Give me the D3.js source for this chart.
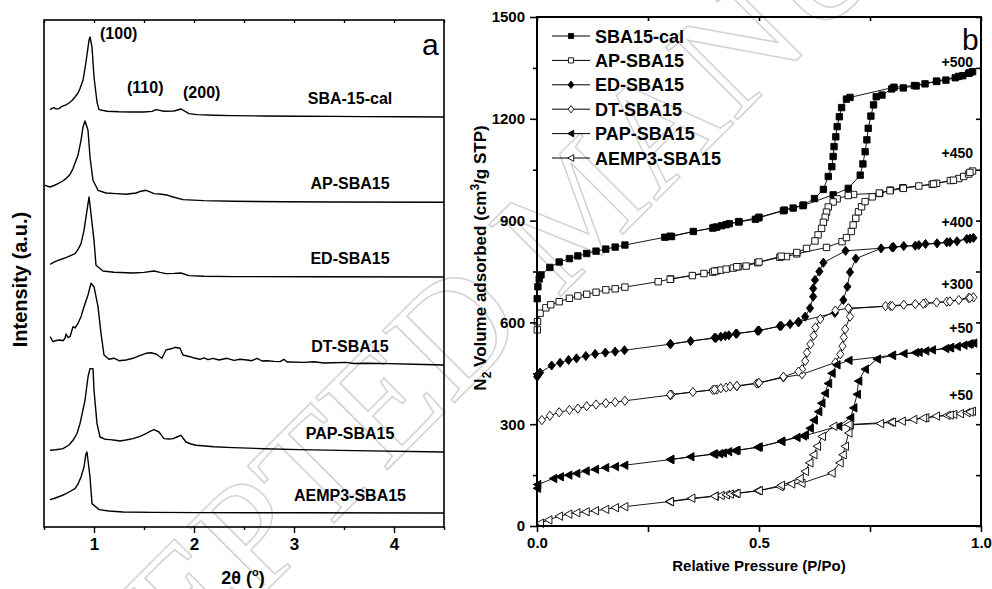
<!DOCTYPE html>
<html><head><meta charset="utf-8">
<script src="https://cdn.jsdelivr.net/npm/d3@7"></script>
<style>body{margin:0;background:#fff}svg{display:block}text{font-family:"Liberation Sans",Arial,sans-serif}</style>
</head><body><svg id="c" width="992" height="589"></svg>
<script>
// ---------- Panel (a): XRD patterns, [2theta, intensity above baseline] ----------
const xrdNames = ["SBA-15-cal","AP-SBA15","ED-SBA15","DT-SBA15","PAP-SBA15","AEMP3-SBA15"];
const xrdOffsets = [410, 325, 250, 162, 75, 14];
const xrdSbaCal = [[0.56,7.4],[0.58,8.6],[0.60,9.4],[0.62,8.0],[0.65,8.4],[0.68,10.7],[0.72,12.2],[0.75,14],[0.78,16.5],[0.81,20],[0.84,24],[0.86,28.4],[0.89,36.7],[0.92,55],[0.95,76.7],[0.96,80],[0.98,70],[1.00,40],[1.03,15],[1.05,7.4],[1.13,5.7],[1.25,5.2],[1.37,5],[1.50,5],[1.58,5.6],[1.62,7.4],[1.70,5.7],[1.80,6],[1.87,8],[1.95,3.4],[2.03,2.4],[2.20,1.8],[2.37,1.4],[2.70,1.0],[3.03,0.7],[3.40,0.6],[3.70,0.4],[4.10,0.3],[4.50,0]];
const xrdAP = [[0.51,16.7],[0.56,15],[0.60,16.5],[0.64,18.4],[0.68,20.5],[0.72,23.4],[0.76,27.5],[0.79,33.4],[0.84,46.7],[0.87,61.7],[0.89,75],[0.91,81],[0.94,71.7],[0.96,45],[0.99,21.7],[1.04,11.7],[1.12,9],[1.22,8.4],[1.32,7.7],[1.42,9],[1.47,10.8],[1.52,11.7],[1.56,10.2],[1.60,8.4],[1.66,8.0],[1.74,6.7],[1.79,5],[1.89,2.4],[2.10,1.4],[2.39,0.7],[2.90,0.3],[3.39,0],[4.50,-0.3]];
const xrdED = [[0.56,12.7],[0.60,14.8],[0.64,16.7],[0.68,18.0],[0.72,19.4],[0.76,21.2],[0.81,23.4],[0.84,27.5],[0.87,33.4],[0.90,46.7],[0.93,66.7],[0.95,80],[0.97,63.4],[1.00,36.7],[1.02,11.7],[1.09,6],[1.20,4.8],[1.39,4],[1.50,4.6],[1.60,6],[1.66,4.6],[1.72,3.4],[1.80,3.6],[1.87,4],[1.95,1.4],[2.10,0.8],[2.39,0.4],[3.20,0.2],[4.50,0]];
const xrdDT = [[0.56,28.3],[0.59,23.3],[0.62,24.5],[0.66,25],[0.69,24.2],[0.71,26.7],[0.72,31],[0.74,27.5],[0.76,28.3],[0.79,38.3],[0.81,37.0],[0.84,41.7],[0.87,48.3],[0.90,58.3],[0.94,70],[0.97,81.7],[1.00,78.3],[1.04,58.3],[1.07,31.7],[1.10,10],[1.15,5.7],[1.20,6.8],[1.25,4.3],[1.32,5.0],[1.39,6.7],[1.45,9.2],[1.52,11.7],[1.57,12.3],[1.62,11],[1.68,6.7],[1.72,15],[1.77,16.2],[1.81,17.7],[1.86,16.7],[1.89,10],[1.93,9.0],[1.96,8.3],[2.00,7.0],[2.06,5.7],[2.10,7.2],[2.14,5.3],[2.19,6.7],[2.25,5.0],[2.33,6.7],[2.40,4.6],[2.46,5.8],[2.53,5],[2.58,4.3],[2.63,6.7],[2.68,4.0],[2.73,4.3],[2.80,3.6],[2.86,3.4],[2.90,5.7],[2.93,3.0],[2.96,3],[3.10,2.6],[3.20,3.2],[3.30,2.0],[3.39,2.3],[3.52,2.6],[3.60,1.5],[3.73,1.7],[3.95,1.4],[4.20,0.7],[4.50,0]];
const xrdPAP = [[0.56,1.7],[0.62,2.2],[0.69,3.4],[0.75,7.0],[0.79,11.7],[0.83,18.5],[0.86,28.4],[0.91,51.7],[0.94,75],[0.96,83.4],[0.99,83.4],[1.00,61.7],[1.03,28.4],[1.06,15],[1.11,12.8],[1.16,12.4],[1.21,11.7],[1.26,11],[1.32,12.0],[1.39,13.4],[1.46,15.6],[1.52,18.4],[1.56,20.6],[1.60,22.4],[1.65,20],[1.70,13.4],[1.75,13.0],[1.79,13.4],[1.84,15.5],[1.87,16.7],[1.92,10],[1.97,8.0],[2.02,6.7],[2.20,5.2],[2.39,4.4],[2.70,3.3],[3.05,2.4],[3.60,1.4],[4.50,0]];
const xrdAEMP3 = [[0.56,13.4],[0.60,14.5],[0.64,16],[0.68,17.5],[0.72,19.4],[0.76,21.5],[0.81,24.4],[0.84,29],[0.87,36],[0.90,46],[0.92,59.4],[0.93,61],[0.96,36],[0.98,9.4],[1.05,3.4],[1.15,2.0],[1.29,1],[1.60,0.6],[2.05,0.4],[3.00,0.2],[4.50,0]];
const xrdSeries = [xrdSbaCal, xrdAP, xrdED, xrdDT, xrdPAP, xrdAEMP3];
const xrdTicks = [1,2,3,4];
const xrdMinorTicks = [0.5,1.5,2.5,3.5,4.5];
const peakLabels = ["(100)","(110)","(200)"];
const peakPos = [[1.06,488],[1.33,434],[1.89,429]];

// ---------- Panel (b): N2 isotherms, [P/Po, volume (cm3/g STP)] ----------
const isoNames = ["SBA15-cal","AP-SBA15","ED-SBA15","DT-SBA15","PAP-SBA15","AEMP3-SBA15"];
const isoShifts = ["+500","+450","+400","+300","+50","+50"];
const isoSbaCal = [[0.0005,670],[0.002,705],[0.005,728],[0.009,740],[0.029,762],[0.050,778],[0.073,788],[0.092,796],[0.112,803],[0.133,810],[0.155,816],[0.176,822],[0.198,828],[0.288,851],[0.303,853],[0.352,868],[0.396,878],[0.405,881],[0.416,885],[0.426,888],[0.433,891],[0.454,896],[0.492,904],[0.499,908],[0.555,929],[0.577,937],[0.599,944],[0.667,976],[0.701,995],[0.728,1034],[0.734,1067],[0.739,1103],[0.743,1138],[0.746,1172],[0.752,1208],[0.758,1241],[0.764,1265],[0.777,1270],[0.799,1288],[0.825,1291],[0.854,1297],[0.874,1303],[0.900,1310],[0.921,1314],[0.942,1321],[0.959,1327],[0.972,1334],[0.981,1339],
  [0.975,1336],[0.950,1325],[0.900,1311],[0.850,1298],[0.804,1293],[0.705,1263],[0.697,1258],[0.686,1233],[0.681,1206],[0.676,1177],[0.673,1147],[0.669,1118],[0.667,1089],[0.664,1059],[0.656,1030],[0.645,992],[0.625,965],[0.600,946],[0.557,931],[0.500,910],[0.455,897],[0.400,880],[0.300,854]];
const isoAP = [[0.0007,578],[0.001,602],[0.007,627],[0.020,643],[0.031,652],[0.050,661],[0.073,671],[0.092,678],[0.112,683],[0.133,689],[0.155,696],[0.176,699],[0.198,704],[0.273,720],[0.301,728],[0.350,738],[0.376,744],[0.396,748],[0.405,752],[0.414,754],[0.426,757],[0.442,760],[0.454,764],[0.471,766],[0.497,776],[0.547,792],[0.562,794],[0.585,802],[0.652,821],[0.687,838],[0.697,850],[0.708,868],[0.712,887],[0.718,907],[0.724,926],[0.731,941],[0.739,956],[0.755,970],[0.772,980],[0.796,990],[0.824,997],[0.860,1002],[0.890,1007],[0.900,1010],[0.931,1018],[0.950,1024],[0.961,1030],[0.972,1037],[0.981,1046],
  [0.975,1042],[0.938,1019],[0.893,1008],[0.825,995],[0.795,988],[0.771,981],[0.713,977],[0.701,974],[0.676,964],[0.667,955],[0.656,940],[0.652,925],[0.649,910],[0.645,895],[0.641,877],[0.633,858],[0.626,840],[0.607,818],[0.585,806],[0.550,795],[0.500,778],[0.450,764],[0.400,751],[0.300,727]];
const isoED = [[0.0005,440],[0.002,447],[0.007,452],[0.033,473],[0.052,481],[0.071,489],[0.089,494],[0.110,501],[0.131,507],[0.154,511],[0.176,514],[0.197,518],[0.301,536],[0.346,545],[0.403,554],[0.414,558],[0.424,560],[0.432,562],[0.448,567],[0.497,575],[0.547,589],[0.570,595],[0.589,602],[0.671,628],[0.690,666],[0.699,705],[0.705,748],[0.718,788],[0.775,818],[0.803,822],[0.826,825],[0.852,826],[0.875,831],[0.901,833],[0.923,836],[0.946,839],[0.968,846],[0.983,849],
  [0.975,847],[0.930,837],[0.860,828],[0.800,821],[0.695,811],[0.645,776],[0.636,750],[0.626,725],[0.622,700],[0.622,676],[0.615,642],[0.604,617],[0.589,600],[0.550,590],[0.500,576],[0.450,567],[0.400,555],[0.300,536]];
const isoDT = [[0.011,312],[0.029,325],[0.050,335],[0.073,342],[0.092,346],[0.112,353],[0.133,358],[0.155,362],[0.176,365],[0.198,369],[0.300,386],[0.303,387],[0.351,395],[0.396,401],[0.405,402],[0.414,406],[0.426,408],[0.435,411],[0.450,412],[0.495,420],[0.499,421],[0.555,438],[0.597,447],[0.672,482],[0.683,506],[0.688,530],[0.691,556],[0.694,580],[0.705,617],[0.703,640],[0.785,648],[0.796,649],[0.826,652],[0.852,654],[0.875,657],[0.900,659],[0.923,661],[0.950,666],[0.972,672],[0.983,674],
  [0.975,672],[0.930,662],[0.870,655],[0.800,648],[0.701,642],[0.672,635],[0.638,610],[0.627,585],[0.623,561],[0.616,536],[0.608,511],[0.604,486],[0.597,462],[0.589,455],[0.555,440],[0.500,422],[0.450,413],[0.400,402],[0.300,387]];
const isoPAP = [[0.0005,111],[0.001,122],[0.037,140],[0.052,145],[0.071,150],[0.089,155],[0.110,162],[0.131,167],[0.154,172],[0.176,175],[0.197,179],[0.301,196],[0.346,204],[0.397,212],[0.411,213],[0.419,215],[0.431,219],[0.446,222],[0.497,232],[0.551,249],[0.585,261],[0.600,265],[0.679,294],[0.706,319],[0.713,348],[0.721,388],[0.724,427],[0.739,462],[0.766,492],[0.800,503],[0.826,508],[0.852,511],[0.875,516],[0.890,519],[0.920,523],[0.931,526],[0.946,529],[0.961,533],[0.972,536],[0.983,539],
  [0.975,537],[0.930,525],[0.860,512],[0.800,503],[0.702,488],[0.675,475],[0.664,450],[0.656,420],[0.649,391],[0.641,362],[0.634,337],[0.624,312],[0.615,288],[0.604,269],[0.550,250],[0.500,233],[0.450,223],[0.400,212],[0.300,196]];
const isoAEMP3 = [[0.007,8],[0.026,18],[0.050,29],[0.071,35],[0.089,39],[0.110,42],[0.131,45],[0.154,49],[0.176,54],[0.197,57],[0.298,72],[0.348,82],[0.401,88],[0.414,90],[0.426,92],[0.435,94],[0.446,96],[0.497,104],[0.547,116],[0.573,124],[0.596,126],[0.664,156],[0.682,186],[0.689,210],[0.694,235],[0.702,274],[0.705,298],[0.773,302],[0.796,306],[0.822,309],[0.848,314],[0.875,319],[0.899,324],[0.923,326],[0.938,329],[0.953,331],[0.968,334],[0.980,338],
  [0.975,336],[0.930,327],[0.870,318],[0.800,306],[0.702,299],[0.668,294],[0.642,264],[0.631,235],[0.623,210],[0.614,186],[0.604,161],[0.592,140],[0.550,120],[0.500,104],[0.450,96],[0.400,88],[0.300,72]];
const isoSeries = [isoSbaCal, isoAP, isoED, isoDT, isoPAP, isoAEMP3];
const isoMarkers = ["square","square","diamond","diamond","ltri","ltri"];
const isoFilled = [true,false,true,false,true,false];
const isoYTicks = [0,300,600,900,1200,1500];
const isoYMinor = [150,450,750,1050,1350];
const isoXTicks = [0,0.5,1.0];
const isoXMinor = [0.25,0.75];
const shiftLabelY = [1353,1085,881,698,569,371];

// ---------- drawing ----------
const svg = d3.select("#c");
const bold = "bold";

// watermark
svg.append("text")
  .attr("transform","translate(-36,893) rotate(-45)")
  .attr("text-anchor","start")
  .style("font-family","'Liberation Serif','DejaVu Serif',serif")
  .attr("font-size",155)
  .attr("fill","none").attr("stroke","#d2d2d2").attr("stroke-width",1.5)
  .text("ACCEPTED MANUSCRIPT");

// ===== Panel a =====
const ax = d3.scaleLinear().domain([0.5,4.5]).range([44,444]);
const ay = d3.scaleLinear().domain([0,507]).range([527,20]);
const ga = svg.append("g");

const aline = d3.line().x(d=>ax(d[0])).y(d=>ay(d[1]));
xrdSeries.forEach((s,i)=>{
  ga.append("path").datum(s.map(d=>[d[0], d[1]+xrdOffsets[i]]))
    .attr("d",aline).attr("fill","none").attr("stroke","#000").attr("stroke-width",1.4).attr("stroke-linejoin","round");
});

ga.append("rect").attr("x",ax(0.5)).attr("y",ay(507)).attr("width",ax(4.5)-ax(0.5)).attr("height",ay(0)-ay(507))
  .attr("fill","none").attr("stroke","#000").attr("stroke-width",1.6);

const aBottom = ga.append("g").attr("transform",`translate(0,${ay(0)})`)
  .call(d3.axisBottom(ax).tickValues(xrdTicks).tickSize(6).tickPadding(5).tickFormat(d3.format("d")));
const aBottomMinor = ga.append("g").attr("transform",`translate(0,${ay(0)})`)
  .call(d3.axisBottom(ax).tickValues(xrdMinorTicks).tickSize(3).tickFormat(""));
const aTop = ga.append("g").attr("transform",`translate(0,${ay(507)})`)
  .call(d3.axisTop(ax).tickValues(xrdTicks.concat(xrdMinorTicks)).tickSize(-3).tickFormat(""));
[aBottom,aBottomMinor,aTop].forEach(g=>{
  g.select(".domain").remove();
  g.selectAll("line").attr("stroke","#000").attr("stroke-width",1.4);
  g.selectAll("text").attr("font-size",17).attr("font-weight",bold).attr("fill","#000").style("font-family","'Liberation Sans',Arial,sans-serif");
});

xrdNames.forEach((n,i)=>{
  ga.append("text").attr("x",ax(3.56)).attr("y",ay(xrdOffsets[i]+ (i===5?12:13)))
    .attr("text-anchor","middle").attr("font-size",16).attr("font-weight",bold).text(n);
});
peakLabels.forEach((t,i)=>{
  ga.append("text").attr("x",ax(peakPos[i][0])).attr("y",ay(peakPos[i][1]))
    .attr("font-size",16).attr("font-weight",bold).text(t);
});
ga.append("text").attr("x",422).attr("y",55).attr("font-size",30).text("a");

ga.append("text").attr("transform",`translate(27,${(ay(0)+ay(507))/2+6}) rotate(-90)`)
  .attr("text-anchor","middle").attr("font-size",20).attr("font-weight",bold).text("Intensity (a.u.)");
const xt = ga.append("text").attr("x",243).attr("y",584).attr("text-anchor","middle").attr("font-size",18).attr("font-weight",bold);
xt.append("tspan").text("2θ (");
xt.append("tspan").attr("font-size",11).attr("dy",-8).text("o");
xt.append("tspan").attr("dy",8).text(")");

// ===== Panel b =====
const bx = d3.scaleLinear().domain([0,1]).range([537,981]);
const by = d3.scaleLinear().domain([0,1500]).range([526,17]);
const gb = svg.append("g");

function markerPath(type, k){
  const s = k||1;
  if(type==="square") return `M${-3.2*s},${-3.2*s}h${6.4*s}v${6.4*s}h${-6.4*s}Z`;
  if(type==="diamond") return `M0,${-4.6*s}L${3.6*s},0L0,${4.6*s}L${-3.6*s},0Z`;
  return `M${-4.2*s},0L${3.4*s},${-4.2*s}L${3.4*s},${4.2*s}Z`;
}

const bline = d3.line().x(d=>bx(d[0])).y(d=>by(d[1]));
isoSeries.forEach((s,i)=>{
  const g = gb.append("g");
  g.append("path").datum(s).attr("d",bline).attr("fill","none").attr("stroke","#000").attr("stroke-width",0.9);
  g.selectAll("path.m").data(s).enter().append("path").attr("class","m")
    .attr("transform",d=>`translate(${bx(d[0])},${by(d[1])})`)
    .attr("d",markerPath(isoMarkers[i]))
    .attr("fill",isoFilled[i]?"#000":"#fff").attr("stroke","#000").attr("stroke-width",0.9);
});

gb.append("rect").attr("x",bx(0)).attr("y",by(1500)).attr("width",bx(1)-bx(0)).attr("height",by(0)-by(1500))
  .attr("fill","none").attr("stroke","#000").attr("stroke-width",2);

function styleAxis(g, fs){
  g.select(".domain").remove();
  g.selectAll("line").attr("stroke","#000").attr("stroke-width",1.6);
  g.selectAll("text").attr("font-size",fs).attr("font-weight",bold).attr("fill","#000").style("font-family","'Liberation Sans',Arial,sans-serif");
}
styleAxis(gb.append("g").attr("transform",`translate(${bx(0)},0)`)
  .call(d3.axisLeft(by).tickValues(isoYTicks).tickSize(7).tickPadding(5).tickFormat(d3.format("d"))),15);
styleAxis(gb.append("g").attr("transform",`translate(${bx(0)},0)`)
  .call(d3.axisLeft(by).tickValues(isoYMinor).tickSize(4).tickFormat("")),15);
styleAxis(gb.append("g").attr("transform",`translate(${bx(1)},0)`)
  .call(d3.axisRight(by).tickValues(isoYTicks.concat(isoYMinor)).tickSize(-5).tickFormat("")),15);
styleAxis(gb.append("g").attr("transform",`translate(0,${by(0)})`)
  .call(d3.axisBottom(bx).tickValues(isoXTicks).tickSize(6).tickPadding(5).tickFormat(d3.format(".1f"))),15);
styleAxis(gb.append("g").attr("transform",`translate(0,${by(0)})`)
  .call(d3.axisBottom(bx).tickValues(isoXMinor).tickSize(6).tickFormat("")),15);
styleAxis(gb.append("g").attr("transform",`translate(0,${by(1500)})`)
  .call(d3.axisTop(bx).tickValues(isoXTicks.concat(isoXMinor)).tickSize(-4).tickFormat("")),15);

// legend
const legY0 = 36, legDy = 24.4;
isoNames.forEach((n,i)=>{
  const y = legY0 + i*legDy;
  gb.append("line").attr("x1",552).attr("x2",590).attr("y1",y).attr("y2",y).attr("stroke","#000").attr("stroke-width",1);
  gb.append("path").attr("transform",`translate(571,${y})`).attr("d",markerPath(isoMarkers[i],0.8))
    .attr("fill",isoFilled[i]?"#000":"#fff").attr("stroke","#000").attr("stroke-width",0.9);
  gb.append("text").attr("x",595).attr("y",y+6.5).attr("font-size",18).attr("font-weight",bold).text(n);
});
isoShifts.forEach((t,i)=>{
  gb.append("text").attr("x",973).attr("y",by(shiftLabelY[i])).attr("text-anchor","end")
    .attr("font-size",14).attr("font-weight",bold).text(t);
});
gb.append("text").attr("x",962).attr("y",50).attr("font-size",30).text("b");

gb.append("text").attr("x",bx(0.5)).attr("y",571).attr("text-anchor","middle").attr("font-size",15).attr("font-weight",bold).text("Relative Pressure (P/Po)");
const yt = gb.append("text").attr("transform",`translate(486,258) rotate(-90)`).attr("text-anchor","middle").attr("font-size",17).attr("font-weight",bold);
yt.append("tspan").text("N");
yt.append("tspan").attr("font-size",12).attr("dy",5).text("2");
yt.append("tspan").attr("dy",-5).text(" Volume adsorbed (cm");
yt.append("tspan").attr("font-size",12).attr("dy",-7).text("3");
yt.append("tspan").attr("dy",7).text("/g STP)");
</script></body></html>
